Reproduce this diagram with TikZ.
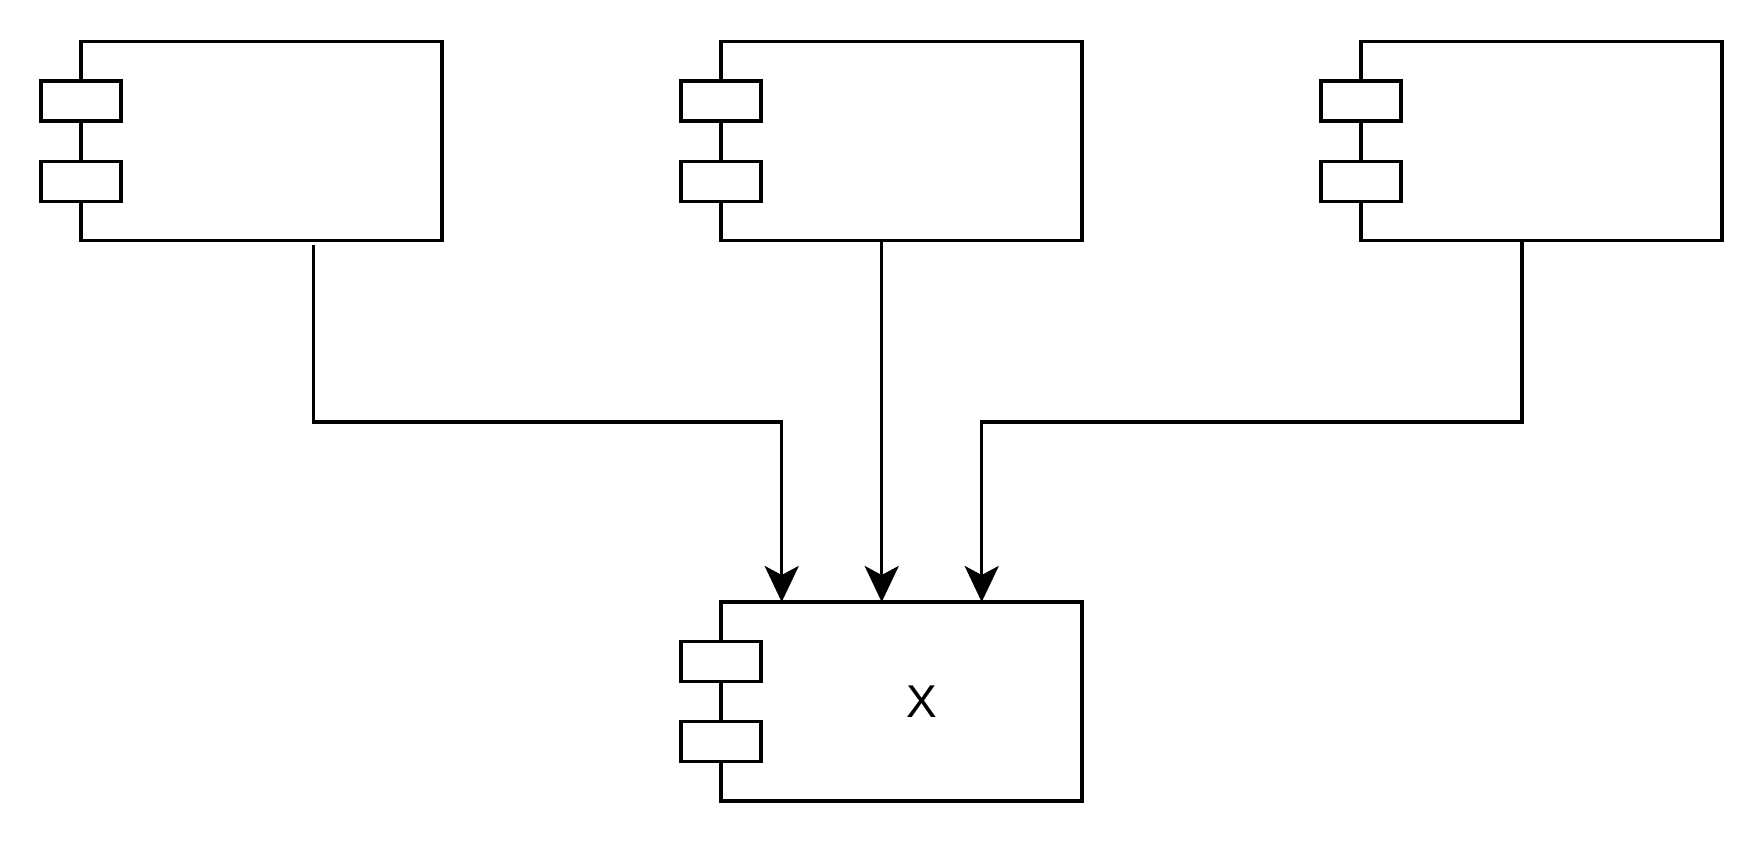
\documentclass[tikz,border=0pt]{standalone}
\usepackage{fontspec}
\setmainfont{Liberation Sans}
\usetikzlibrary{arrows.meta,calc}
\tikzset{
  body/.style={draw,line width=3.4pt,rectangle,inner sep=0pt,outer sep=0pt,minimum width=361pt,minimum height=199pt,fill=white},
  port/.style={draw,line width=3.4pt,rectangle,inner sep=0pt,outer sep=0pt,minimum width=80pt,minimum height=40pt,fill=white},
  conn/.style={line width=3.4pt,-{Stealth[length=36pt,width=34pt,inset=9pt]}},
  lbl/.style={font=\fontsize{46pt}{50pt}\selectfont,inner sep=0pt}
}
\begin{document}
\begin{tikzpicture}[x=1pt,y=-1pt]
\useasboundingbox (0,0) rectangle (1764,848);
% components
\node[body] (L) at (261.5,141.2) {};
\node[body] (M) at (901.5,141.2) {};
\node[body] (R) at (1541.5,141.2) {};
\node[body] (X) at (901.5,701.5) {};
\foreach \n in {L,M,R,X}{
  \node[port] (\n p1) at ([yshift=40pt]\n.west) {};
  \node[port] (\n p2) at ([yshift=-40pt]\n.west) {};
}
\node[lbl] (xl) at ([xshift=20pt]X.center) {X};
% connectors
\coordinate (bus) at (0,422);
\coordinate (ls) at ([xshift=52.2pt,yshift=-4pt]L.south);
\coordinate (lt) at ([xshift=-119.8pt]X.north);
\coordinate (ms) at ([xshift=-19.8pt]M.south);
\coordinate (mt) at ([xshift=-19.8pt]X.north);
\coordinate (rs) at ([xshift=-19.5pt]R.south);
\coordinate (rt) at ([xshift=80.2pt]X.north);
\draw[conn] (ls) -- (ls |- bus) -- (lt |- bus) -- (lt);
\draw[conn] (ms) -- (mt);
\draw[conn] (rs) -- (rs |- bus) -- (rt |- bus) -- (rt);
\end{tikzpicture}
\end{document}
